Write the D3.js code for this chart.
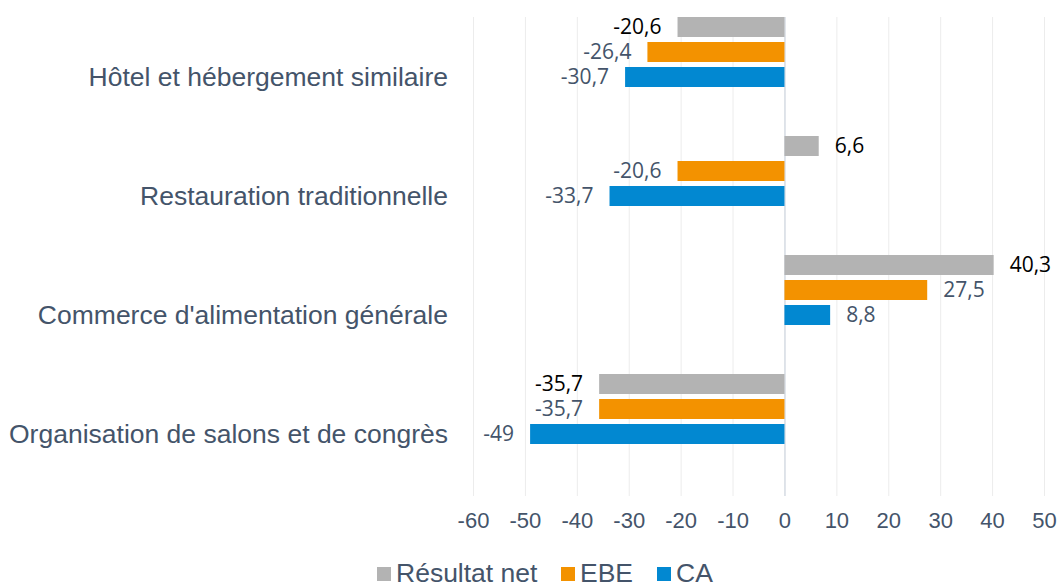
<!DOCTYPE html>
<html>
<head>
<meta charset="utf-8">
<script src="https://cdn.jsdelivr.net/npm/d3@7"></script>
<style>
  body { margin: 0; background: #fff; }
  svg { display: block; }
</style>
</head>
<body>
<div class="chart"></div>
<script>
var categories = ["Hôtel et hébergement similaire", "Restauration traditionnelle", "Commerce d'alimentation générale", "Organisation de salons et de congrès"];
var seriesNames = ["Résultat net", "EBE", "CA"];
var resultatNet = [-20.6, 6.6, 40.3, -35.7];
var ebe = [-26.4, -20.6, 27.5, -35.7];
var ca = [-30.7, -33.7, 8.8, -49];
var xTicks = [-60, -50, -40, -30, -20, -10, 0, 10, 20, 30, 40, 50];

var width = 1059;
var height = 583;
var colors = ["#b3b3b3", "#f39200", "#0288d1"];
var labelColors = ["#000000", "#44546a", "#44546a"];
var textColor = "#44546a";

var data = categories.map(function (c, i) {
  return { cat: c, values: [resultatNet[i], ebe[i], ca[i]] };
});

var svg = d3.select(".chart")
  .append("svg")
  .attr("width", width)
  .attr("height", height);

// Scales
var xScale = d3.scaleLinear()
  .domain([-60, 50])
  .range([473, 1044]);

var yScale = d3.scaleBand()
  .domain(categories)
  .range([17, 493])
  .paddingInner(0);

var ySub = d3.scaleBand()
  .domain(seriesNames)
  .range([0, 70])
  .paddingInner(0.2);

// Gridlines
svg.append("g")
  .selectAll("line")
  .data(xTicks)
  .enter()
  .append("line")
  .attr("x1", function (d) { return xScale(d) + 0.5 })
  .attr("x2", function (d) { return xScale(d) + 0.5 })
  .attr("y1", 17)
  .attr("y2", 496)
  .style("stroke", function (d) { return d == 0 ? "#d5dbe3" : "#ececec" })
  .style("stroke-width", function (d) { return d == 0 ? 1.5 : 1 });

// Bars
var group = svg.selectAll(".cat")
  .data(data).enter()
  .append("g")
  .attr("class", "cat")
  .attr("transform", function (d) { return `translate(0, ${yScale(d.cat)})` });

group.selectAll("rect")
  .data(function (d) { return d.values })
  .enter()
  .append("rect")
  .attr("x", function (d) { return xScale(Math.min(0, d)) })
  .attr("width", function (d) { return Math.abs(xScale(d) - xScale(0)) })
  .attr("y", function (d, i) { return ySub(seriesNames[i]) })
  .attr("height", ySub.bandwidth())
  .style("fill", function (d, i) { return colors[i] });

// Data labels
group.selectAll(".val")
  .data(function (d) { return d.values })
  .enter()
  .append("text")
  .attr("class", "val")
  .attr("x", function (d) { return d < 0 ? xScale(d) - 16 : xScale(d) + 16 })
  .attr("y", function (d, i) { return ySub(seriesNames[i]) + ySub.bandwidth() / 2 })
  .attr("dy", "0.35em")
  .attr("text-anchor", function (d) { return d < 0 ? "end" : "start" })
  .style("font-family", "'Open Sans', sans-serif")
  .style("font-size", "21px")
  .style("fill", function (d, i) { return labelColors[i] })
  .text(function (d) { return String(d).replace(".", ",") });

// Category labels
svg.append("g")
  .selectAll("text")
  .data(categories)
  .enter()
  .append("text")
  .attr("x", 448)
  .attr("y", function (d) { return yScale(d) + yScale.bandwidth() / 2 })
  .attr("dy", "0.35em")
  .attr("text-anchor", "end")
  .style("font-family", "'Liberation Sans', Arial, sans-serif")
  .style("font-size", "26.5px")
  .style("fill", textColor)
  .text(function (d) { return d });

// X axis
var xAxis = d3.axisBottom(xScale).tickValues(xTicks).tickSize(0).tickPadding(0)
  .tickFormat(function (d) { return String(d) });
var axisG = svg.append("g")
  .attr("transform", "translate(0, 512)")
  .call(xAxis);
axisG.select(".domain").remove();
axisG.selectAll("text")
  .attr("dy", "0.71em")
  .style("font-family", "'Liberation Sans', Arial, sans-serif")
  .style("font-size", "22px")
  .style("fill", textColor);

// Legend
var legendX = [377, 561, 657];
var legend = svg.append("g")
  .selectAll("g")
  .data(seriesNames)
  .enter()
  .append("g")
  .attr("transform", function (d, i) { return `translate(${legendX[i]}, 0)` });

legend.append("rect")
  .attr("x", 0)
  .attr("y", 567)
  .attr("width", 14)
  .attr("height", 14)
  .style("fill", function (d, i) { return colors[i] });

legend.append("text")
  .attr("x", 19)
  .attr("y", 582)
  .style("font-family", "'Liberation Sans', Arial, sans-serif")
  .style("font-size", "26.5px")
  .style("fill", textColor)
  .text(function (d) { return d });
</script>
</body>
</html>
